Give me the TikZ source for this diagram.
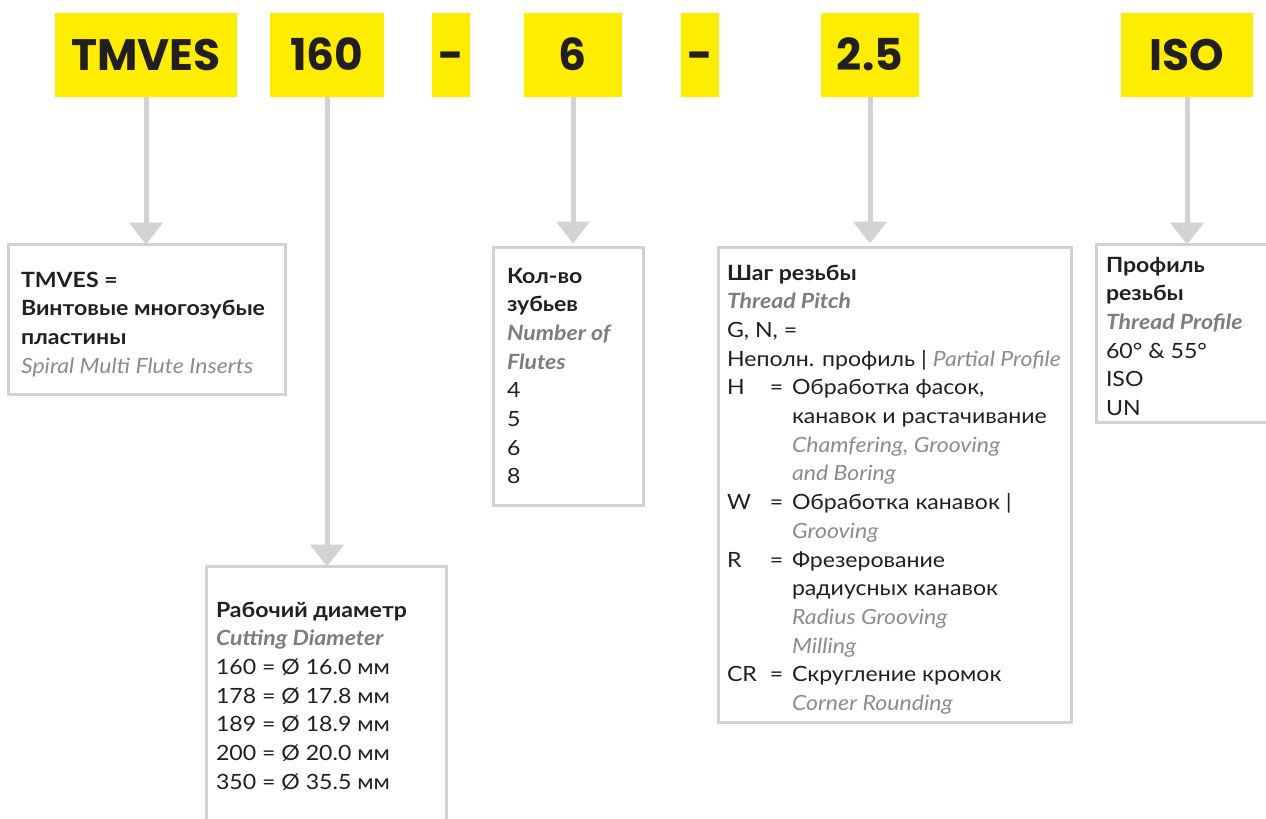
\documentclass[tikz,border=0pt]{standalone}
\usepackage{fontspec}
\setmainfont{Lato}[FakeStretch=1.1]
\newfontfamily\hdfont{Poppins}
\usetikzlibrary{arrows.meta}
\definecolor{ybg}{RGB}{255,237,0}
\definecolor{ink}{RGB}{35,31,32}
\definecolor{gtxt}{RGB}{140,140,140}
\definecolor{gbold}{RGB}{125,125,125}
\definecolor{conncol}{RGB}{211,211,213}
\definecolor{bord}{RGB}{210,210,212}
\newcommand{\en}[1]{{\color{gtxt}\itshape #1}}
\newcommand{\enb}[1]{{\color{gbold}\bfseries\itshape #1}}
\newcommand{\kv}[2]{\makebox[43pt][l]{#1}\makebox[22pt][l]{=}#2}
\newcommand{\ind}{\hspace*{65pt}}
\begin{document}
\begin{tikzpicture}[x=1pt,y=-1pt,
  code/.style={fill=ybg, inner sep=0pt, outer sep=0pt, anchor=north west,
    font=\hdfont\bfseries\fontsize{44}{44}\selectfont, text=ink,
    text height=31pt, text depth=0pt, minimum height=84pt},
  infobox/.style={draw=bord, line width=3pt, inner sep=0pt, outer sep=0pt, anchor=north west},
  txt/.style={inner sep=0pt, outer sep=0pt, anchor=base west, text=ink,
    font=\fontsize{21}{28.7}\selectfont},
  conn/.style={draw=conncol, line width=5pt, -{Triangle[width=33pt,length=22pt]}}
]
\useasboundingbox (0,0) rectangle (1266,819);

% code boxes
\node[code, minimum width=182pt] (tmves) at (55,13) {TMVES};
\node[code, minimum width=114pt] (c160) at (270,13) {160};
\node[code, minimum width=38pt] (d1) at (432,13) {-};
\node[code, minimum width=98pt] (c6) at (524,13) {6};
\node[code, minimum width=38pt] (d2) at (681,13) {-};
\node[code, minimum width=98pt] (c25) at (821,13) {2.5};
\node[code, minimum width=132pt] (ciso) at (1121,13) {ISO};

% info boxes
\node[infobox, minimum width=277pt, minimum height=150pt] (b1) at (8.5,244.5) {};
\node[infobox, minimum width=240pt, minimum height=300pt] (b160) at (206.5,566.5) {};
\node[infobox, minimum width=150pt, minimum height=258pt] (b6) at (493.5,247.5) {};
\node[infobox, minimum width=353pt, minimum height=475pt] (b25) at (718.5,247.5) {};
\node[infobox, minimum width=220pt, minimum height=178pt] (biso) at (1096.5,244.5) {};

% connectors
\draw[conn] (tmves.south) -- (tmves.south |- b1.north);
\draw[conn] (c160.south) -- (c160.south |- b160.north);
\draw[conn, shorten >=4pt] (c6.south) -- (c6.south |- b6.north);
\draw[conn, shorten >=4pt] (c25.south) -- (c25.south |- b25.north);
\draw[conn] (ciso.south) -- (ciso.south |- biso.north);

% texts
\node[txt] (t1) at (21,287) {\begin{tabular}[t]{@{}l@{}}
\bfseries TMVES =\\
\bfseries Винтовые многозубые\\
\bfseries пластины\\
\en{Spiral Multi Flute Inserts}
\end{tabular}};

\node[txt] (t160) at (216,617) {\begin{tabular}[t]{@{}l@{}}
\bfseries Рабочий диаметр\\
\enb{Cutting Diameter}\\
160 = Ø 16.0 мм\\
178 = Ø 17.8 мм\\
189 = Ø 18.9 мм\\
200 = Ø 20.0 мм\\
350 = Ø 35.5 мм
\end{tabular}};

\node[txt] (t6) at (507,283) {\begin{tabular}[t]{@{}l@{}}
\bfseries Кол-во\\
\bfseries зубьев\\
\enb{Number of}\\
\enb{Flutes}\\
4\\
5\\
6\\
8
\end{tabular}};

\node[txt] (t25) at (727,280) {\begin{tabular}[t]{@{}l@{}}
\bfseries Шаг резьбы\\
\enb{Thread Pitch}\\
G, N, =\\
Неполн. профиль | \en{Partial Profile}\\
\kv{H}{Обработка фасок,}\\
\ind канавок и растачивание\\
\ind\en{Chamfering, Grooving}\\
\ind\en{and Boring}\\
\kv{W}{Обработка канавок |}\\
\ind\en{Grooving}\\
\kv{R}{Фрезерование}\\
\ind радиусных канавок\\
\ind\en{Radius Grooving}\\
\ind\en{Milling}\\
\kv{CR}{Скругление кромок}\\
\ind\en{Corner Rounding}
\end{tabular}};

\node[txt] (tiso) at (1106,272) {\begin{tabular}[t]{@{}l@{}}
\bfseries Профиль\\
\bfseries резьбы\\
\enb{Thread Profile}\\
60° \& 55°\\
ISO\\
UN
\end{tabular}};
\end{tikzpicture}
\end{document}
